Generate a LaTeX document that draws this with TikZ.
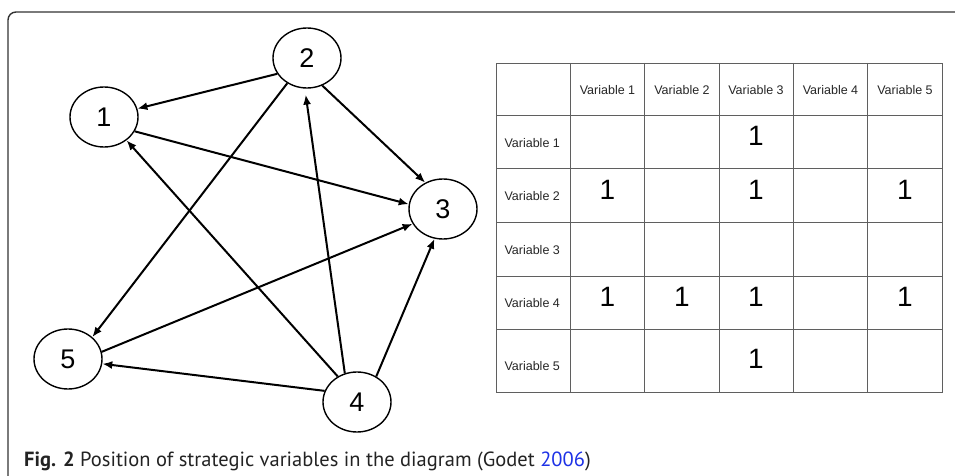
\documentclass[tikz,border=0pt]{standalone}
\usepackage{fontspec}
\setmainfont{Liberation Sans}
\newfontfamily\capfont{PT Sans}
\usepackage{tikz}
\usetikzlibrary{arrows.meta}
\usetikzlibrary{shapes.geometric}
\definecolor{citeblue}{RGB}{30,50,230}
\definecolor{gridgray}{RGB}{95,95,95}
\definecolor{captext}{RGB}{35,35,35}
\tikzset{>={Latex[length=10pt,width=8pt]}}
\tikzset{var/.style={ellipse, draw, line width=1.4pt, minimum width=68pt, minimum height=60pt, inner sep=0pt, font=\fontsize{27}{27}\selectfont}}
\tikzset{link/.style={->, line width=2pt}}
\tikzset{head/.style={font=\fontsize{12.5}{12.5}\selectfont, text=black!85}}
\tikzset{one/.style={font=\fontsize{28}{28}\selectfont}}

\begin{document}
\begin{tikzpicture}[x=1pt,y=-1pt]
	\useasboundingbox (0,0) rectangle (955,476);
	% frame
	\draw[line width=1.4pt, black!80, rounded corners=8pt] (955,12) -- (8,12) -- (8,476);

	% graph
	\node[var] (v1) at (104,117) {1};
	\node[var] (v2) at (307,58) {2};
	\node[var] (v3) at (443,209) {3};
	\node[var] (v4) at (357,402) {4};
	\node[var] (v5) at (68,359) {5};

	\draw[link] (v2.208) -- (v1.14);
	\draw[link] (v2.232) -- (v5.42);
	\draw[link] (v2.299) -- (v3.124);
	\draw[link] (v1.335) -- (v3.172);
	\draw[link] (v4.127) -- (v1.314);
	\draw[link, shorten >=6pt] (v4.113) -- (v2.266);
	\draw[link] (v4.53) -- (v3.254);
	\draw[link] (v4.161) -- (v5.352);
	\draw[link] (v5.12) -- (v3.206);

	% matrix
	\draw[gridgray, line width=0.9pt] (496,63) rectangle (942,392);
	\draw[gridgray, line width=0.9pt] (570.3,63) -- (570.3,392);
	\draw[gridgray, line width=0.9pt] (644.7,63) -- (644.7,392);
	\draw[gridgray, line width=0.9pt] (719,63) -- (719,392);
	\draw[gridgray, line width=0.9pt] (793.3,63) -- (793.3,392);
	\draw[gridgray, line width=0.9pt] (867.7,63) -- (867.7,392);
	\draw[gridgray, line width=0.9pt] (496,115) -- (942,115);
	\draw[gridgray, line width=0.9pt] (496,168) -- (942,168);
	\draw[gridgray, line width=0.9pt] (496,222) -- (942,222);
	\draw[gridgray, line width=0.9pt] (496,276) -- (942,276);
	\draw[gridgray, line width=0.9pt] (496,329) -- (942,329);

	\node[head] (c1) at (607.5,90) {Variable 1};
	\node[head] (c2) at (682,90) {Variable 2};
	\node[head] (c3) at (756,90) {Variable 3};
	\node[head] (c4) at (830.5,90) {Variable 4};
	\node[head] (c5) at (905,90) {Variable 5};
	\node[head, anchor=west] (r1) at (501,143) {Variable 1};
	\node[head, anchor=west] (r2) at (501,196) {Variable 2};
	\node[head, anchor=west] (r3) at (501,250) {Variable 3};
	\node[head, anchor=west] (r4) at (501,303) {Variable 4};
	\node[head, anchor=west] (r5) at (501,366) {Variable 5};

	\node[one] (m13) at (756,136) {1};
	\node[one] (m21) at (607.5,190) {1};
	\node[one] (m23) at (756,190) {1};
	\node[one] (m25) at (905,190) {1};
	\node[one] (m41) at (607.5,297) {1};
	\node[one] (m42) at (682,297) {1};
	\node[one] (m43) at (756,297) {1};
	\node[one] (m45) at (905,297) {1};
	\node[one] (m53) at (756,359) {1};

	% caption
	\node[anchor=base west, inner sep=0pt, text=captext, font=\capfont\fontsize{20.5}{20.5}\selectfont] (cap) at (24,466)
		{\textbf{Fig. 2} Position of strategic variables in the diagram (Godet \textcolor{citeblue}{2006})};
\end{tikzpicture}
\end{document}
